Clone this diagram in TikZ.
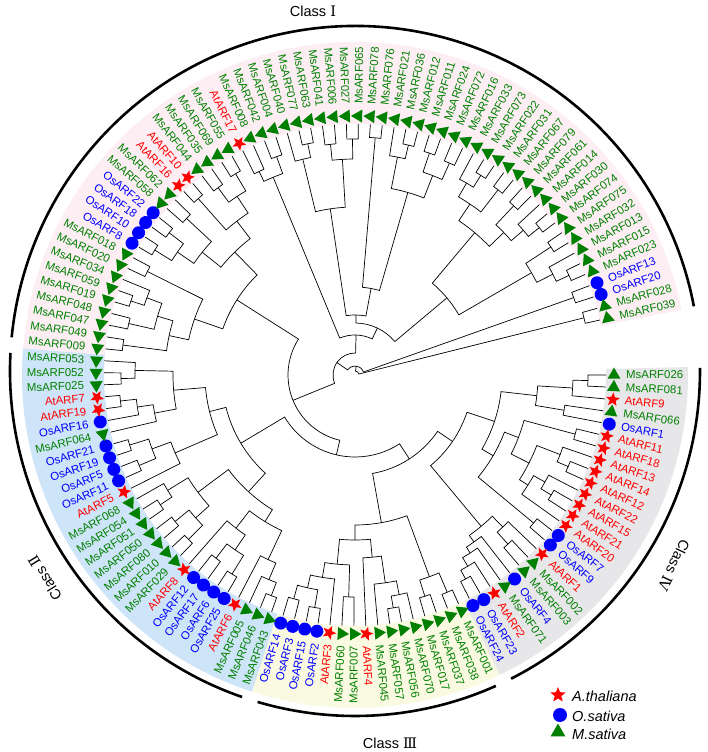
\documentclass[tikz,border=0pt]{standalone}
\usepackage{fontspec}
\setmainfont{Liberation Sans}
\setsansfont{Liberation Sans}
\newfontfamily\romfont{DejaVu Serif}
\usetikzlibrary{shapes.geometric}

\definecolor{msgreen}{RGB}{0,128,0}
\definecolor{osblue}{RGB}{0,0,255}
\definecolor{atred}{RGB}{255,0,0}
\definecolor{bandI}{RGB}{253,238,244}
\definecolor{bandII}{RGB}{206,228,248}
\definecolor{bandIII}{RGB}{250,250,226}
\definecolor{bandIV}{RGB}{231,231,233}

% store angle and radius of a tree node
\newcommand\setnd[3]{\expandafter\xdef\csname nda#1\endcsname{#2}\expandafter\xdef\csname ndr#1\endcsname{#3}}
% join two children at a radius
\newcommand\J[4]{%
  \edef\aA{\csname nda#2\endcsname}\edef\rA{\csname ndr#2\endcsname}%
  \edef\aB{\csname nda#3\endcsname}\edef\rB{\csname ndr#3\endcsname}%
  \draw[branch] (\aA:\rA pt) -- (\aA:#4pt) arc[start angle=\aA, end angle=\aB, radius=#4pt] -- (\aB:\rB pt);%
  \pgfmathsetmacro\aM{(\aA+\aB)/2}%
  \setnd{#1}{\aM}{#4}}
% annular band between two angles
\newcommand\band[3]{\fill[#1] (#2:251pt) arc[start angle=#2, end angle=#3, radius=251pt] -- (#3:333pt) arc[start angle=#3, end angle=#2, radius=333pt] -- cycle;}

\begin{document}
\begin{tikzpicture}[font=\sffamily]
	\tikzstyle{branch}=[line width=0.7pt, black]
	\tikzstyle{classarc}=[line width=2.6pt, black]
	\tikzstyle{mkt}=[regular polygon, regular polygon sides=3, fill=msgreen, minimum size=15pt, inner sep=0pt]
	\tikzstyle{mkc}=[circle, fill=osblue, minimum size=13pt, inner sep=0pt]
	\tikzstyle{mks}=[star, star points=5, star point ratio=2.3, fill=atred, minimum size=14.5pt, inner sep=0pt]
	\tikzstyle{lbt}=[text=msgreen, inner sep=0pt, font=\fontsize{11.4}{13}\selectfont]
	\tikzstyle{lbc}=[text=osblue, inner sep=0pt, font=\fontsize{11.4}{13}\selectfont]
	\tikzstyle{lbs}=[text=atred, inner sep=0pt, font=\fontsize{11.4}{13}\selectfont]
	\tikzstyle{classlabel}=[inner sep=0pt, font=\fontsize{14.5}{17}\selectfont]
	\tikzstyle{legendtext}=[anchor=west, inner sep=0pt, font=\fontsize{14.5}{17}\selectfont\itshape]
	\fill[white] (-355pt,-377pt) rectangle (353pt,375pt);
	\useasboundingbox (-355pt,-377pt) rectangle (353pt,375pt);
	% class bands
	\band{bandIV}{1.37}{-64.27}
	\band{bandIII}{-64.27}{-108.03}
	\band{bandII}{-108.03}{-184.61}
	\band{bandI}{-184.61}{-348.71}
	% class arcs
	\draw[classarc] (0pt,4pt) ++(10.8:345pt) arc[start angle=10.8, end angle=174.4, radius=345pt];
	\draw[classarc] (0pt,4pt) ++(177:345pt) arc[start angle=177, end angle=250.9, radius=345pt];
	\draw[classarc] (0pt,4pt) ++(253.6:345pt) arc[start angle=253.6, end angle=294.1, radius=345pt];
	\draw[classarc] (0pt,4pt) ++(296.9:345pt) arc[start angle=296.9, end angle=360.5, radius=345pt];
	\node[classlabel] (cI) at (-42pt,364pt) {Class {\romfont Ⅰ}};
	\node[classlabel, rotate=122] (cII) at (-310pt,-203pt) {Class {\romfont Ⅱ}};
	\node[classlabel] (cIII) at (35pt,-368pt) {Class {\romfont Ⅲ}};
	\node[classlabel, rotate=-115.5] (cIV) at (319pt,-190pt) {Class {\romfont Ⅳ}};
	% leaves
	\foreach \i/\nm/\ty in {1/MsARF026/t, 2/MsARF081/t, 3/AtARF9/s, 4/MsARF066/t, 5/OsARF1/c,
		6/AtARF11/s, 7/AtARF18/s, 8/AtARF13/s, 9/AtARF14/s, 10/AtARF12/s, 11/AtARF22/s,
		12/AtARF15/s, 13/AtARF21/s, 14/AtARF20/s, 15/OsARF7/c, 16/OsARF9/c, 17/AtARF1/s,
		18/MsARF002/t, 19/MsARF003/t, 20/OsARF4/c, 21/MsARF071/t, 22/AtARF2/s, 23/OsARF23/c,
		24/OsARF24/c, 25/MsARF001/t, 26/MsARF038/t, 27/MsARF037/t, 28/MsARF017/t, 29/MsARF070/t,
		30/MsARF056/t, 31/MsARF057/t, 32/MsARF045/t, 33/AtARF4/s, 34/MsARF007/t, 35/MsARF060/t,
		36/AtARF3/s, 37/OsARF2/c, 38/OsARF15/c, 39/OsARF3/c, 40/OsARF14/c, 41/MsARF043/t,
		42/MsARF046/t, 43/MsARF005/t, 44/AtARF6/s, 45/OsARF25/c, 46/OsARF6/c, 47/OsARF17/c,
		48/OsARF12/c, 49/AtARF8/s, 50/MsARF029/t, 51/MsARF010/t, 52/MsARF080/t, 53/MsARF050/t,
		54/MsARF051/t, 55/MsARF054/t, 56/MsARF068/t, 57/AtARF5/s, 58/OsARF11/c, 59/OsARF5/c,
		60/OsARF19/c, 61/OsARF21/c, 62/MsARF064/t, 63/OsARF16/c, 64/AtARF19/s, 65/AtARF7/s,
		66/MsARF025/t, 67/MsARF052/t, 68/MsARF053/t, 69/MsARF009/t, 70/MsARF049/t, 71/MsARF047/t,
		72/MsARF048/t, 73/MsARF019/t, 74/MsARF059/t, 75/MsARF034/t, 76/MsARF020/t, 77/MsARF018/t,
		78/OsARF8/c, 79/OsARF10/c, 80/OsARF18/c, 81/OsARF22/c, 82/MsARF058/t, 83/MsARF062/t,
		84/AtARF16/s, 85/AtARF10/s, 86/MsARF044/t, 87/MsARF035/t, 88/MsARF069/t, 89/MsARF055/t,
		90/AtARF17/s, 91/MsARF008/t, 92/MsARF042/t, 93/MsARF004/t, 94/MsARF040/t, 95/MsARF077/t,
		96/MsARF063/t, 97/MsARF041/t, 98/MsARF006/t, 99/MsARF027/t, 100/MsARF065/t, 101/MsARF078/t,
		102/MsARF076/t, 103/MsARF021/t, 104/MsARF036/t, 105/MsARF012/t, 106/MsARF011/t,
		107/MsARF024/t, 108/MsARF072/t, 109/MsARF016/t, 110/MsARF033/t, 111/MsARF073/t,
		112/MsARF022/t, 113/MsARF031/t, 114/MsARF067/t, 115/MsARF079/t, 116/MsARF061/t,
		117/MsARF014/t, 118/MsARF030/t, 119/MsARF074/t, 120/MsARF075/t, 121/MsARF032/t,
		122/MsARF013/t, 123/MsARF015/t, 124/MsARF023/t, 125/OsARF13/c, 126/OsARF20/c,
		127/MsARF028/t, 128/MsARF039/t}{
		\pgfmathsetmacro\la{-(\i-1)*2.735}
		\setnd{\i}{\la}{251}
		\node[mk\ty, rotate=\la] (m\i) at (\la:259pt) {};
		\pgfmathtruncatemacro\lft{and(\la<-90,\la>-270)}
		\ifnum\lft=1
			\node[lb\ty, rotate=\la+180, anchor=east] (l\i) at (\la:271pt) {\nm};
		\else
			\node[lb\ty, rotate=\la, anchor=west] (l\i) at (\la:271pt) {\nm};
		\fi
	}
	% class IV
	\J{a1}{1}{2}{233}
	\J{a2}{a1}{3}{218}
	\J{a3}{4}{5}{212}
	\J{a4}{a2}{a3}{183}
	\J{b1}{6}{7}{228}
	\J{b2}{9}{10}{232}
	\J{b3}{8}{b2}{220}
	\J{b4}{12}{13}{230}
	\J{b5}{11}{b4}{218}
	\J{b6}{b5}{14}{205}
	\J{b7}{b3}{b6}{195}
	\J{b8}{b1}{b7}{175}
	\J{c2}{15}{16}{232}
	\J{c3}{b8}{c2}{160}
	\J{c1}{a4}{c3}{147}
	\J{d1}{18}{19}{228}
	\J{d2}{17}{d1}{212}
	\J{e1}{23}{24}{232}
	\J{e2}{22}{e1}{222}
	\J{e3}{21}{e2}{212}
	\J{d3}{20}{e3}{205}
	\J{e4}{d2}{d3}{197}
	\J{C4}{c1}{e4}{118}
	% class III
	\J{f1}{25}{26}{236}
	\J{f2}{27}{28}{232}
	\J{f3}{f1}{f2}{215}
	\J{k0}{30}{31}{236}
	\J{k1}{29}{k0}{224}
	\J{k2}{k1}{32}{210}
	\J{k3}{k2}{33}{183}
	\J{g0}{34}{35}{222}
	\J{h1}{37}{38}{236}
	\J{h2}{39}{40}{232}
	\J{h3}{h1}{h2}{218}
	\J{i1}{36}{h3}{205}
	\J{i2}{g0}{i1}{190}
	\J{Z}{k3}{i2}{165}
	\J{C3}{f3}{Z}{150}
	% class II
	\J{m1}{41}{42}{236}
	\J{m2}{m1}{43}{222}
	\J{m3}{44}{m2}{204}
	\J{n1}{45}{46}{234}
	\J{n2}{47}{48}{230}
	\J{n3}{n1}{n2}{212}
	\J{n4}{49}{n3}{194}
	\J{o1}{m3}{n4}{172}
	\J{p1}{50}{51}{234}
	\J{p2}{52}{53}{232}
	\J{p3}{p1}{p2}{214}
	\J{p4}{54}{55}{234}
	\J{p5}{p4}{56}{220}
	\J{p6}{p3}{p5}{196}
	\J{o2}{o1}{p6}{158}
	\J{q1}{58}{59}{234}
	\J{q2}{60}{61}{236}
	\J{q3}{q1}{q2}{216}
	\J{q4}{57}{q3}{196}
	\J{r1}{64}{65}{236}
	\J{r2}{63}{r1}{220}
	\J{r3}{62}{r2}{204}
	\J{s1}{66}{67}{234}
	\J{s2}{s1}{68}{220}
	\J{s3}{r3}{s2}{182}
	\J{t1}{q4}{s3}{150}
	\J{C2}{o2}{t1}{133}
	% class I, left part
	\J{u1}{69}{70}{234}
	\J{u2}{71}{72}{232}
	\J{u3}{73}{74}{236}
	\J{u4}{u3}{75}{222}
	\J{u5}{u2}{u4}{206}
	\J{u6}{u1}{u5}{190}
	\J{u7}{76}{77}{232}
	\J{u8}{u6}{u7}{170}
	\J{v1}{78}{79}{236}
	\J{v2}{80}{81}{234}
	\J{v3}{v1}{v2}{216}
	\J{w1}{82}{83}{230}
	\J{w2}{v3}{w1}{196}
	\J{x1}{84}{85}{236}
	\J{y1}{86}{87}{232}
	\J{y2}{88}{89}{234}
	\J{y3}{y1}{y2}{214}
	\J{z1}{x1}{y3}{194}
	\J{z2}{w2}{z1}{172}
	\J{z3}{u8}{z2}{140}
	% class I, right part
	\J{z4}{90}{91}{225}
	\J{zA}{92}{93}{232}
	\J{z5}{z4}{zA}{214}
	\J{A2}{95}{96}{236}
	\J{A3}{94}{A2}{222}
	\J{A5}{97}{98}{232}
	\J{A6}{99}{100}{236}
	\J{A7}{A5}{A6}{216}
	\J{A8}{A3}{A7}{168}
	\J{A9}{101}{102}{238}
	\J{B1}{104}{105}{236}
	\J{B2}{103}{B1}{222}
	\J{B4}{106}{107}{234}
	\J{B5}{108}{109}{232}
	\J{B6}{B4}{B5}{214}
	\J{B7}{B2}{B6}{190}
	\J{H1}{A9}{B7}{88}
	\J{B8}{A8}{H1}{60}
	\J{D1}{111}{112}{236}
	\J{D2}{110}{D1}{222}
	\J{D3}{113}{114}{234}
	\J{D4}{D2}{D3}{206}
	\J{D5}{115}{116}{232}
	\J{D6}{118}{119}{236}
	\J{D7}{117}{D6}{222}
	\J{D8}{D5}{D7}{206}
	\J{D9}{D4}{D8}{186}
	\J{E1}{120}{121}{234}
	\J{E2}{123}{124}{236}
	\J{E3}{122}{E2}{222}
	\J{E4}{E1}{E3}{204}
	\J{E5}{D9}{E4}{120}
	\J{E6}{B8}{E5}{52}
	% deep nodes
	\J{N}{C3}{C4}{100}
	\J{M}{C2}{N}{82}
	\J{L}{z3}{M}{67}
	\J{R}{z5}{E6}{40}
	\J{T3}{L}{R}{22}
	\J{P1}{125}{126}{232}
	\J{P2}{127}{128}{236}
	\J{T4}{T3}{P1}{9}
	\J{T5}{T4}{P2}{4}
	% legend
	\node[mks, minimum size=16pt] (k1) at (203pt,-320pt) {};
	\node[legendtext] (k1t) at (217pt,-321pt) {A.thaliana};
	\node[mkc, minimum size=14pt] (k2) at (205pt,-340pt) {};
	\node[legendtext] (k2t) at (217pt,-341pt) {O.sativa};
	\node[mkt, minimum size=17pt] (k3) at (203pt,-357pt) {};
	\node[legendtext] (k3t) at (217pt,-359pt) {M.sativa};
\end{tikzpicture}
\end{document}
